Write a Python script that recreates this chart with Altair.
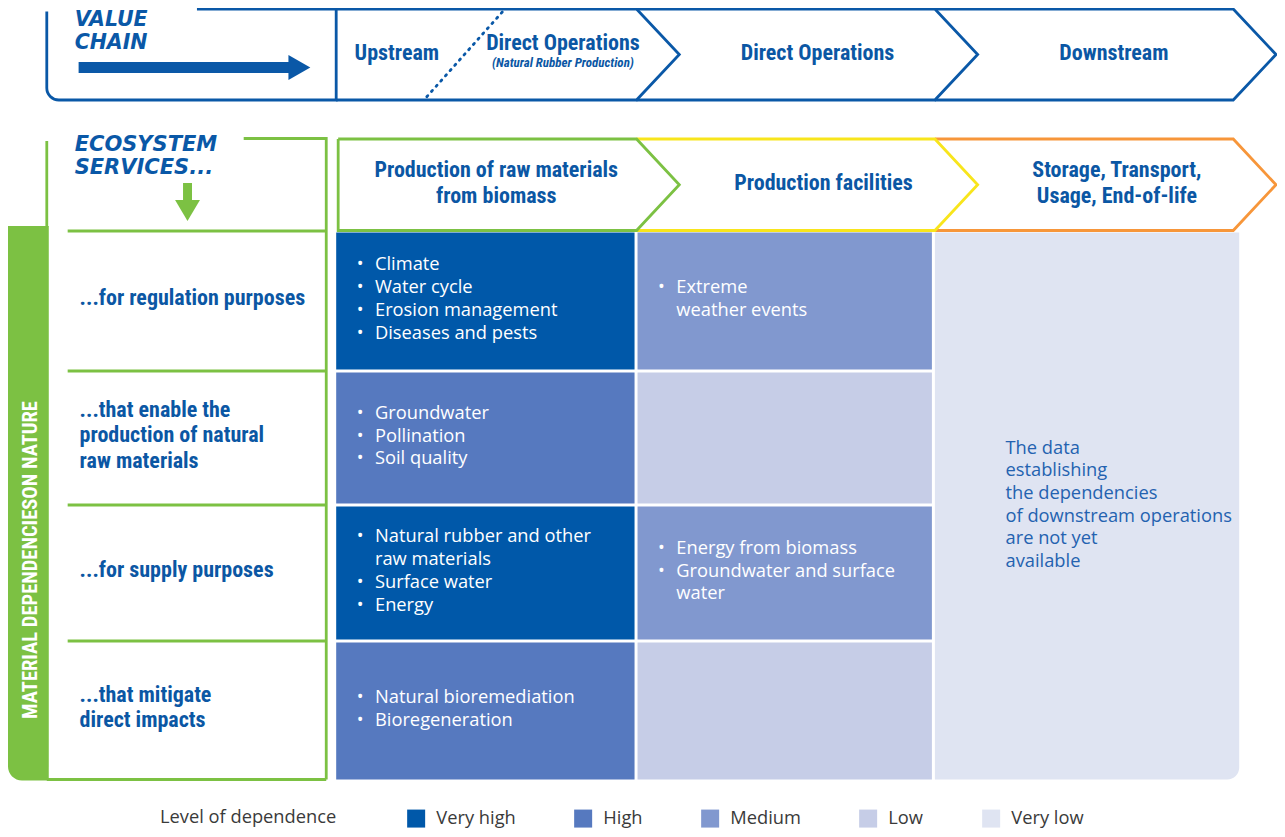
import altair as alt
import pandas as pd

# ---------------- chart content ----------------
VALUE_CHAIN_TITLE = ["VALUE", "CHAIN"]
ECOSYSTEM_TITLE = ["ECOSYSTEM", "SERVICES..."]
SIDE_TITLE = "MATERIAL DEPENDENCIESON NATURE"
STAGE_LABELS = ["Upstream", "Direct Operations", "Direct Operations", "Downstream"]
STAGE_NOTE = "(Natural Rubber Production)"
ACTIVITY_LABELS = [["Production of raw materials", "from biomass"],
                   ["Production facilities"],
                   ["Storage, Transport,", "Usage, End-of-life"]]
SERVICE_LABELS = [["...for regulation purposes"],
                  ["...that enable the", "production of natural", "raw materials"],
                  ["...for supply purposes"],
                  ["...that mitigate", "direct impacts"]]
LEVELS = ["Very high", "High", "Medium", "Low", "Very low"]
LEVEL_COLORS = ["#0058a9", "#5679bf", "#8198cf", "#c6cde7", "#dfe4f2"]
LEVEL_COL1 = ["Very high", "High", "Very high", "High"]
LEVEL_COL2 = ["Medium", "Low", "Medium", "Low"]
LEVEL_COL3 = "Very low"
ITEMS_COL1 = [
    [["Climate"], ["Water cycle"], ["Erosion management"], ["Diseases and pests"]],
    [["Groundwater"], ["Pollination"], ["Soil quality"]],
    [["Natural rubber and other", "raw materials"], ["Surface water"], ["Energy"]],
    [["Natural bioremediation"], ["Bioregeneration"]],
]
ITEMS_COL2 = [
    [["Extreme", "weather events"]],
    [],
    [["Energy from biomass"], ["Groundwater and surface", "water"]],
    [],
]
NOTE_COL3 = ["The data", "establishing", "the dependencies",
             "of downstream operations", "are not yet", "available"]
LEGEND_TITLE = "Level of dependence"

# ---------------- layout (page pixels) ----------------
W, H = 1269, 821
X_DOMAIN = [8, 1284]
Y_DOMAIN = [8, 829]
BLUE = "#0a58a7"
GREEN = "#7cc143"
YELLOW = "#f8e51c"
ORANGE = "#f7963a"
TEXT_BLUE = "#0b57a4"
NOTE_BLUE = "#2462b0"
COND = "Roboto Condensed, Open Sans Condensed, sans-serif"
BODY = "Open Sans, sans-serif"
HEAVY = "DejaVu Sans, sans-serif"

TOP_Y0, TOP_Y1 = 9, 100
BOT_Y0, BOT_Y1 = 139, 230.5
CHEV_X = [338, 640, 940, 1240]
CHEV_D = 43
CELL_X = [338, 639.5, 938.5, 1246]
ROW_Y = [231, 371, 505, 641, 779.5]
GAP = 3
STW = 2.8

XS = alt.Scale(domain=X_DOMAIN, nice=False, zero=False)
YS = alt.Scale(domain=Y_DOMAIN, nice=False, zero=False, reverse=True)


def X(f="x"):
    return alt.X(f"{f}:Q", scale=XS, axis=None)


def Y(f="y"):
    return alt.Y(f"{f}:Q", scale=YS, axis=None)


def box(x0, x1, y0, y1, **extra):
    d = dict(x=x0, x2=x1, y=y0, y2=y1)
    d.update(extra)
    return d


def rect_layer(rows, **mark):
    return alt.Chart(pd.DataFrame(rows)).mark_rect(**mark).encode(
        x=X("x"), x2="x2", y=Y("y"), y2="y2")


def lines_layer(polys, color, **mark):
    rows = []
    for k, pts in enumerate(polys):
        for i, (px, py) in enumerate(pts):
            rows.append(dict(seg=k, i=i, x=px, y=py))
    return alt.Chart(pd.DataFrame(rows)).mark_line(
        color=color, strokeWidth=STW, strokeJoin="miter", **mark).encode(
        x=X("x"), y=Y("y"), detail="seg:N", order="i:Q")


def text_layer(rows, **mark):
    return alt.Chart(pd.DataFrame(rows)).mark_text(baseline="middle", **mark).encode(
        x=X("x"), y=Y("y"), text="text:N")


def stacked(lines, cx, cy, lh):
    n = len(lines)
    return [dict(x=cx, y=cy + (j - (n - 1) / 2) * lh, text=t) for j, t in enumerate(lines)]


layers = []

# value chain box (rounded bottom-left) with a gap in the top edge for the title
layers.append(rect_layer([box(47, CHEV_X[0], TOP_Y0, TOP_Y1)], fill="white", stroke=BLUE,
                         strokeWidth=STW, cornerRadiusBottomLeft=12))
layers.append(rect_layer([box(43, 198, 4, 11.6)], fill="white"))

# green side bar
layers.append(rect_layer([box(8, 49, 226, ROW_Y[-1] + 1)], fill=GREEN, cornerRadiusBottomLeft=14))

# dependency cells
legend = alt.Legend(
    orient="none", legendX=152, legendY=801, direction="horizontal",
    title=LEGEND_TITLE, titleOrient="left", titleFont=BODY, titleFontSize=18.3,
    titleFontWeight="normal", titleColor="#3a3a3a", titlePadding=70,
    labelFont=BODY, labelFontSize=18.3, labelColor="#3a3a3a", labelOffset=11,
    symbolType="square", symbolSize=324, symbolStrokeWidth=0, symbolOpacity=1,
    columnPadding=58)
cscale = alt.Scale(domain=LEVELS, range=LEVEL_COLORS)


def cell_box(ci, ri, level):
    x0 = CELL_X[ci] + (GAP / 2 if ci > 0 else 0)
    x1 = CELL_X[ci + 1] - (GAP / 2 if ci < 2 else 0)
    y0 = ROW_Y[ri] + GAP / 2
    y1 = ROW_Y[ri + 1] - (GAP / 2 if ri < 3 else 0)
    return box(x0, x1, y0, y1, level=level)


grid_cells = [cell_box(0, r, lv) for r, lv in enumerate(LEVEL_COL1)] + \
             [cell_box(1, r, lv) for r, lv in enumerate(LEVEL_COL2)]
layers.append(alt.Chart(pd.DataFrame(grid_cells)).mark_rect().encode(
    x=X("x"), x2="x2", y=Y("y"), y2="y2",
    color=alt.Color("level:N", scale=cscale, legend=legend)))
col3 = [box(CELL_X[2] + GAP / 2, CELL_X[3], ROW_Y[0] + GAP / 2, ROW_Y[-1], level=LEVEL_COL3)]
layers.append(alt.Chart(pd.DataFrame(col3)).mark_rect(cornerRadiusBottomRight=12).encode(
    x=X("x"), x2="x2", y=Y("y"), y2="y2",
    color=alt.Color("level:N", scale=cscale, legend=legend)))


def chevron(x0, x1, y0, y1, closed_left=False):
    ym = (y0 + y1) / 2
    pts = [(x0, y0), (x1, y0), (x1 + CHEV_D, ym), (x1, y1), (x0, y1)]
    if closed_left:
        pts.append((x0, y0))
    return pts


# top (value chain) chevrons
layers.append(lines_layer([chevron(CHEV_X[i], CHEV_X[i + 1], TOP_Y0, TOP_Y1) for i in range(3)], BLUE))
# dotted split between upstream and direct operations
layers.append(lines_layer([[(505, 12), (428, 98)]], BLUE, strokeDash=[1.5, 5.5], strokeCap="round"))

# bottom chevrons (activities)
layers.append(lines_layer([chevron(CHEV_X[2], CHEV_X[3], BOT_Y0, BOT_Y1)], ORANGE))
layers.append(lines_layer([chevron(CHEV_X[1], CHEV_X[2], BOT_Y0, BOT_Y1)], YELLOW))
layers.append(lines_layer([chevron(340, CHEV_X[1], BOT_Y0, BOT_Y1, closed_left=True)], GREEN))

# ecosystem services frame
eco = [[(47, 141), (47, 227)], [(245, 138.5), (328, 138.5), (328, ROW_Y[-1])],
       [(47, ROW_Y[-1]), (328, ROW_Y[-1])]]
eco += [[(68, y), (328, y)] for y in ROW_Y[:-1]]
layers.append(lines_layer(eco, GREEN, strokeCap="butt"))

# arrows
layers.append(rect_layer([box(79, 292, 62, 73)], fill=BLUE))
layers.append(alt.Chart(pd.DataFrame([dict(x=290, y=55, y2=80), dict(x=312, y=67.5, y2=67.5)]))
              .mark_area(color=BLUE).encode(x=X("x"), y=Y("y"), y2="y2"))
layers.append(rect_layer([box(184, 193, 183, 201)], fill=GREEN))
layers.append(alt.Chart(pd.DataFrame([dict(y=200, x=176, x2=201), dict(y=221, x=188.5, x2=188.5)]))
              .mark_area(color=GREEN, orient="horizontal").encode(y=Y("y"), x=X("x"), x2="x2"))

# titles
layers.append(text_layer(stacked(VALUE_CHAIN_TITLE, 75, 31.5, 23), align="left", font=HEAVY,
                         fontSize=20.5, fontWeight="bold", fontStyle="italic", color=BLUE))
layers.append(text_layer(stacked(ECOSYSTEM_TITLE, 75, 156.5, 23), align="left", font=HEAVY,
                         fontSize=21, fontWeight="bold", fontStyle="italic", color=BLUE))
layers.append(text_layer([dict(x=31, y=560, text=SIDE_TITLE)], align="center", angle=270,
                         font=COND, fontSize=20.5, fontWeight="bold", color="white"))

# stage headings
STAGE_POS = [(399, 53), (566, 43), (822, 53), (1120, 53)]
layers.append(text_layer([dict(x=p[0], y=p[1], text=t) for p, t in zip(STAGE_POS, STAGE_LABELS)],
                         align="center", font=COND, fontSize=22, fontWeight="bold", color=TEXT_BLUE))
layers.append(text_layer([dict(x=566, y=63, text=STAGE_NOTE)], align="center", font=COND,
                         fontSize=13, fontWeight="bold", fontStyle="italic", color=TEXT_BLUE))
ACT_CX = [499, 828, 1123]
act_rows = []
for cx, lines in zip(ACT_CX, ACTIVITY_LABELS):
    act_rows += stacked(lines, cx, 183, 26)
layers.append(text_layer(act_rows, align="center", font=COND, fontSize=22, fontWeight="bold",
                         color=TEXT_BLUE))

# service labels
svc_rows = []
for r, lines in enumerate(SERVICE_LABELS):
    svc_rows += stacked(lines, 80, (ROW_Y[r] + ROW_Y[r + 1]) / 2 - 3, 25.5)
layers.append(text_layer(svc_rows, align="left", font=COND, fontSize=22, fontWeight="bold",
                         color=TEXT_BLUE))

# cell bullet texts
LH = 22.7
bullets, lines_out = [], []
for ci, col in enumerate([ITEMS_COL1, ITEMS_COL2]):
    x0 = CELL_X[ci] + (GAP / 2 if ci > 0 else 0)
    for ri, items in enumerate(col):
        flat = []
        for item in items:
            for j, t in enumerate(item):
                flat.append((j == 0, t))
        if not flat:
            continue
        y0 = ROW_Y[ri] + GAP / 2
        y1 = ROW_Y[ri + 1] - (GAP / 2 if ri < 3 else 0)
        pos = stacked([t for _, t in flat], x0 + 39, (y0 + y1) / 2 - 1.5, LH)
        for (is_first, _), p in zip(flat, pos):
            lines_out.append(p)
            if is_first:
                bullets.append(dict(x=x0 + 24, y=p["y"], text="\u2022"))
layers.append(text_layer(lines_out, align="left", font=BODY, fontSize=18.3, color="white"))
layers.append(text_layer(bullets, align="center", font=BODY, fontSize=18, color="white"))

layers.append(text_layer(stacked(NOTE_COL3, 1011, (ROW_Y[0] + ROW_Y[-1]) / 2, 22.7), align="left",
                         font=BODY, fontSize=18.3, color=NOTE_BLUE))

chart = alt.layer(*layers).properties(
    width=W, height=H, padding=0, autosize="none", background="white"
).configure_view(stroke=None)

chart.save("out.html", embed_options={"renderer": "svg", "actions": False})
